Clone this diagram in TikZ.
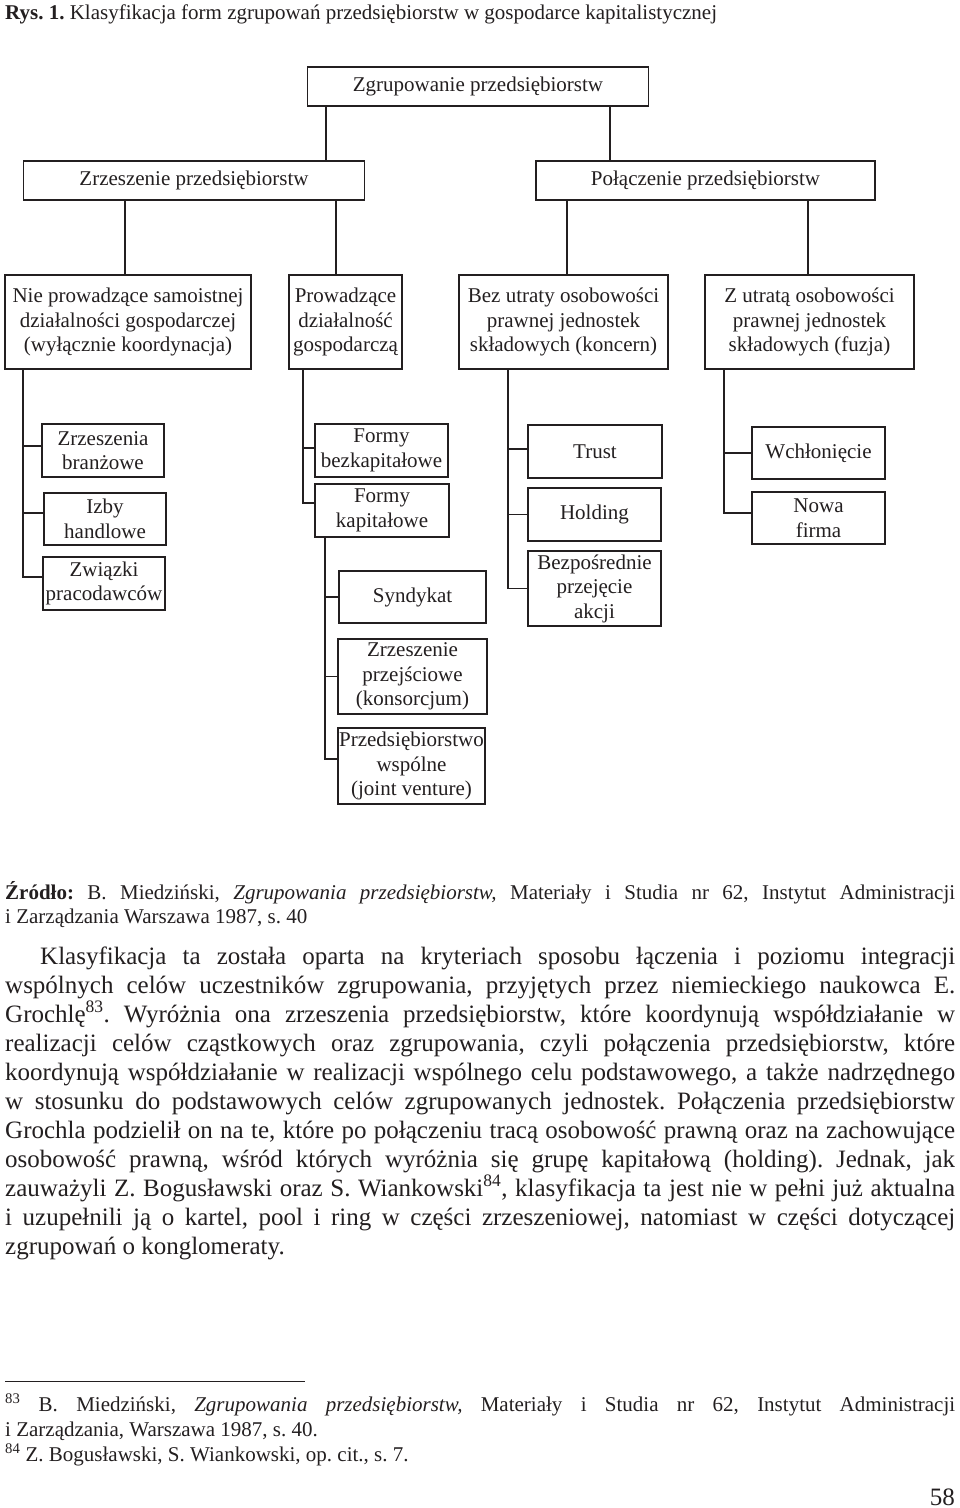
\documentclass[tikz,border=0pt]{standalone}
\usepackage{fontspec}
\setmainfont{Liberation Serif}
\definecolor{ink}{HTML}{231F20}
\frenchspacing
\begin{document}
\begin{tikzpicture}[x=1pt,y=-1pt,
  box/.style={draw=ink, line width=1.6pt, inner sep=0pt, align=center, text=ink,
    font=\fontsize{21}{24.5}\selectfont},
  conn/.style={draw=ink, line width=1.5pt},
  txt/.style={inner sep=0pt, text=ink, anchor=base west},
  body/.style={txt, font=\fontsize{25}{29}\selectfont},
  small/.style={txt, font=\fontsize{21}{24.5}\selectfont}]
\useasboundingbox (0,0) rectangle (960,1508);
\fill[white] (0,0) rectangle (960,1508);

% caption
\node[small] (cap) at (5,19) {\textbf{Rys. 1.} Klasyfikacja form zgrupowań przedsiębiorstw w gospodarce kapitalistycznej};

% level 1 and 2
\node[box, minimum width=341pt, minimum height=39pt] (top) at (478,86.5) {Zgrupowanie przedsiębiorstw};
\node[box, minimum width=341pt, minimum height=39pt] (zl) at (194,180.5) {Zrzeszenie przedsiębiorstw};
\node[box, minimum width=339pt, minimum height=39pt] (pl) at (705.5,180.5) {Połączenie przedsiębiorstw};

% level 3
\node[box, minimum width=246pt, minimum height=94pt] (A) at (128,322) {Nie prowadzące samoistnej\\działalności gospodarczej\\(wyłącznie koordynacja)};
\node[box, minimum width=113pt, minimum height=94pt] (B) at (345.5,322) {Prowadzące\\działalność\\gospodarczą};
\node[box, minimum width=209pt, minimum height=94pt] (C) at (563.5,322) {Bez utraty osobowości\\prawnej jednostek\\składowych (koncern)};
\node[box, minimum width=209pt, minimum height=94pt] (D) at (809.5,322) {Z utratą osobowości\\prawnej jednostek\\składowych (fuzja)};

% level 4
\node[box, minimum width=122pt, minimum height=53pt] (zb) at (103,450.5) {Zrzeszenia\\branżowe};
\node[box, minimum width=122pt, minimum height=52pt] (ih) at (105,519) {Izby\\handlowe};
\node[box, minimum width=122pt, minimum height=53pt] (zp) at (104,583.5) {Związki\\pracodawców};

\node[box, minimum width=133pt, minimum height=53pt] (fb) at (381.5,450.5) {Formy\\bezkapitałowe};
\node[box, minimum width=134pt, minimum height=53pt] (fk) at (382,510.5) {Formy\\kapitałowe};
\node[box, minimum width=147pt, minimum height=52pt] (sy) at (412.5,597) {Syndykat};
\node[box, minimum width=149pt, minimum height=75pt] (zk) at (412.5,676.5) {Zrzeszenie\\przejściowe\\(konsorcjum)};
\node[box, minimum width=147pt, minimum height=76pt] (pw) at (411.5,766) {Przedsiębiorstwo\\wspólne\\(joint venture)};

\node[box, minimum width=134pt, minimum height=53pt] (tr) at (595,451.5) {Trust};
\node[box, minimum width=133pt, minimum height=53pt] (ho) at (594.5,514.5) {Holding};
\node[box, minimum width=133pt, minimum height=75pt] (bp) at (594.5,588.5) {Bezpośrednie\\przejęcie\\akcji};

\node[box, minimum width=133pt, minimum height=52pt] (wc) at (818.5,453) {Wchłonięcie};
\node[box, minimum width=133pt, minimum height=52pt] (nf) at (818.5,518) {Nowa\\firma};

% trunk x positions
\coordinate (xa1) at (326,0);
\coordinate (xa2) at (610,0);
\coordinate (xb1) at (125,0);
\coordinate (xb2) at (336,0);
\coordinate (xc1) at (567,0);
\coordinate (xc2) at (808,0);
\coordinate (ta) at (23,0);
\coordinate (tb) at (303,0);
\coordinate (tf) at (325,0);
\coordinate (tc) at (508,0);
\coordinate (td) at (724,0);

% connectors
\draw[conn] (top.south -| xa1) -- (zl.north -| xa1);
\draw[conn] (top.south -| xa2) -- (pl.north -| xa2);
\draw[conn] (zl.south -| xb1) -- (A.north -| xb1);
\draw[conn] (zl.south -| xb2) -- (B.north -| xb2);
\draw[conn] (pl.south -| xc1) -- (C.north -| xc1);
\draw[conn] (pl.south -| xc2) -- (D.north -| xc2);

\draw[conn] (A.south -| ta) |- ([yshift=4.5pt]zb.west);
\draw[conn] (A.south -| ta) |- ([yshift=6pt]ih.west);
\draw[conn] (A.south -| ta) |- ([yshift=6.5pt]zp.west);

\draw[conn] (B.south -| tb) |- ([yshift=2.5pt]fb.west);
\draw[conn] (B.south -| tb) |- ([yshift=7.5pt]fk.west);

\draw[conn] (fk.south -| tf) |- (sy.west);
\draw[conn] (fk.south -| tf) |- (zk.west);
\draw[conn] (fk.south -| tf) |- ([yshift=7pt]pw.west);

\draw[conn] (C.south -| tc) |- ([yshift=2.5pt]tr.west);
\draw[conn] (C.south -| tc) |- (ho.west);
\draw[conn] (C.south -| tc) |- (bp.west);

\draw[conn] (D.south -| td) |- (wc.west);
\draw[conn] (D.south -| td) |- ([yshift=5pt]nf.west);

% source
\node[small] (s1) at (5,899) {\makebox[950pt][s]{\textbf{Źródło:} B. Miedziński, \textit{Zgrupowania przedsiębiorstw,} Materiały i Studia nr 62, Instytut Administracji}};
\node[small] (s2) at (5,923) {i Zarządzania Warszawa 1987, s. 40};

% body text
\node[body] (b1) at (40,964) {\makebox[915pt][s]{Klasyfikacja ta została oparta na kryteriach sposobu łączenia i poziomu integracji}};
\node[body] (b2) at (5,993) {\makebox[950pt][s]{wspólnych celów uczestników zgrupowania, przyjętych przez niemieckiego naukowca E.}};
\node[body] (b3) at (5,1022) {\makebox[950pt][s]{Grochlę\textsuperscript{83}. Wyróżnia ona zrzeszenia przedsiębiorstw, które koordynują współdziałanie w}};
\node[body] (b4) at (5,1051) {\makebox[950pt][s]{realizacji celów cząstkowych oraz zgrupowania, czyli połączenia przedsiębiorstw, które}};
\node[body] (b5) at (5,1080) {\makebox[950pt][s]{koordynują współdziałanie w realizacji wspólnego celu podstawowego, a także nadrzędnego}};
\node[body] (b6) at (5,1109) {\makebox[950pt][s]{w stosunku do podstawowych celów zgrupowanych jednostek. Połączenia przedsiębiorstw}};
\node[body] (b7) at (5,1138) {\makebox[950pt][s]{Grochla podzielił on na te, które po połączeniu tracą osobowość prawną oraz na zachowujące}};
\node[body] (b8) at (5,1167) {\makebox[950pt][s]{osobowość prawną, wśród których wyróżnia się grupę kapitałową (holding). Jednak, jak}};
\node[body] (b9) at (5,1196) {\makebox[950pt][s]{zauważyli Z. Bogusławski oraz S. Wiankowski\textsuperscript{84}, klasyfikacja ta jest nie w pełni już aktualna}};
\node[body] (b10) at (5,1225) {\makebox[950pt][s]{i uzupełnili ją o kartel, pool i ring w części zrzeszeniowej, natomiast w części dotyczącej}};
\node[body] (b11) at (5,1254) {zgrupowań o konglomeraty.};

% footnotes
\draw[draw=ink, line width=1pt] (5,1381) -- (305,1381);
\node[small] (f1) at (5,1411) {\makebox[950pt][s]{\textsuperscript{83} B. Miedziński, \textit{Zgrupowania przedsiębiorstw,} Materiały i Studia nr 62, Instytut Administracji}};
\node[small] (f2) at (5,1436) {i Zarządzania, Warszawa 1987, s. 40.};
\node[small] (f3) at (5,1461) {\textsuperscript{84} Z. Bogusławski, S. Wiankowski, op. cit., s. 7.};

% page number
\node[body, anchor=base east] (pg) at (955,1505) {58};
\end{tikzpicture}
\end{document}
